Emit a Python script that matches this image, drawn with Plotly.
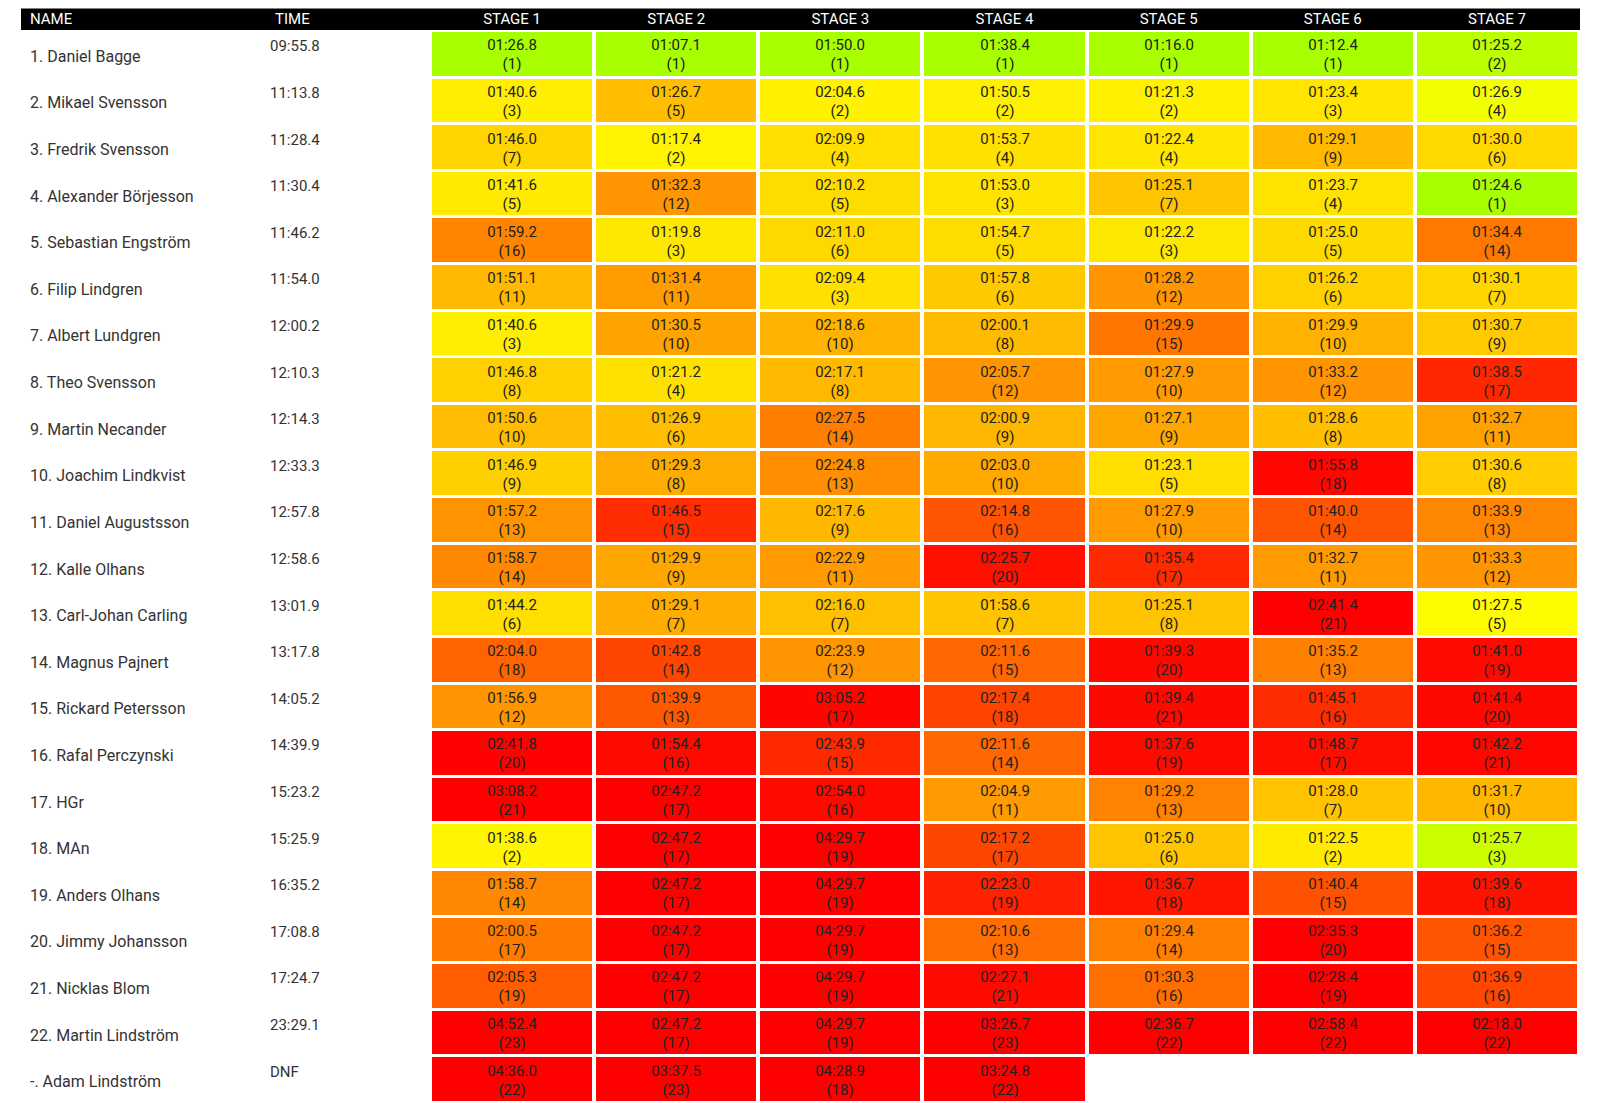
import plotly.graph_objects as go

names = ["1. Daniel Bagge", "2. Mikael Svensson", "3. Fredrik Svensson", "4. Alexander Börjesson",
         "5. Sebastian Engström", "6. Filip Lindgren", "7. Albert Lundgren", "8. Theo Svensson",
         "9. Martin Necander", "10. Joachim Lindkvist", "11. Daniel Augustsson", "12. Kalle Olhans",
         "13. Carl-Johan Carling", "14. Magnus Pajnert", "15. Rickard Petersson", "16. Rafal Perczynski",
         "17. HGr", "18. MAn", "19. Anders Olhans", "20. Jimmy Johansson", "21. Nicklas Blom",
         "22. Martin Lindström", "-. Adam Lindström"]
totals = ["09:55.8", "11:13.8", "11:28.4", "11:30.4", "11:46.2", "11:54.0", "12:00.2", "12:10.3",
          "12:14.3", "12:33.3", "12:57.8", "12:58.6", "13:01.9", "13:17.8", "14:05.2", "14:39.9",
          "15:23.2", "15:25.9", "16:35.2", "17:08.8", "17:24.7", "23:29.1", "DNF"]
stages = ["STAGE 1", "STAGE 2", "STAGE 3", "STAGE 4", "STAGE 5", "STAGE 6", "STAGE 7"]

# stage times per rider (row) and rank in stage
times = [
    ["01:26.8", "01:07.1", "01:50.0", "01:38.4", "01:16.0", "01:12.4", "01:25.2"],
    ["01:40.6", "01:26.7", "02:04.6", "01:50.5", "01:21.3", "01:23.4", "01:26.9"],
    ["01:46.0", "01:17.4", "02:09.9", "01:53.7", "01:22.4", "01:29.1", "01:30.0"],
    ["01:41.6", "01:32.3", "02:10.2", "01:53.0", "01:25.1", "01:23.7", "01:24.6"],
    ["01:59.2", "01:19.8", "02:11.0", "01:54.7", "01:22.2", "01:25.0", "01:34.4"],
    ["01:51.1", "01:31.4", "02:09.4", "01:57.8", "01:28.2", "01:26.2", "01:30.1"],
    ["01:40.6", "01:30.5", "02:18.6", "02:00.1", "01:29.9", "01:29.9", "01:30.7"],
    ["01:46.8", "01:21.2", "02:17.1", "02:05.7", "01:27.9", "01:33.2", "01:38.5"],
    ["01:50.6", "01:26.9", "02:27.5", "02:00.9", "01:27.1", "01:28.6", "01:32.7"],
    ["01:46.9", "01:29.3", "02:24.8", "02:03.0", "01:23.1", "01:55.8", "01:30.6"],
    ["01:57.2", "01:46.5", "02:17.6", "02:14.8", "01:27.9", "01:40.0", "01:33.9"],
    ["01:58.7", "01:29.9", "02:22.9", "02:25.7", "01:35.4", "01:32.7", "01:33.3"],
    ["01:44.2", "01:29.1", "02:16.0", "01:58.6", "01:25.1", "02:41.4", "01:27.5"],
    ["02:04.0", "01:42.8", "02:23.9", "02:11.6", "01:39.3", "01:35.2", "01:41.0"],
    ["01:56.9", "01:39.9", "03:05.2", "02:17.4", "01:39.4", "01:45.1", "01:41.4"],
    ["02:41.8", "01:54.4", "02:43.9", "02:11.6", "01:37.6", "01:48.7", "01:42.2"],
    ["03:08.2", "02:47.2", "02:54.0", "02:04.9", "01:29.2", "01:28.0", "01:31.7"],
    ["01:38.6", "02:47.2", "04:29.7", "02:17.2", "01:25.0", "01:22.5", "01:25.7"],
    ["01:58.7", "02:47.2", "04:29.7", "02:23.0", "01:36.7", "01:40.4", "01:39.6"],
    ["02:00.5", "02:47.2", "04:29.7", "02:10.6", "01:29.4", "02:35.3", "01:36.2"],
    ["02:05.3", "02:47.2", "04:29.7", "02:27.1", "01:30.3", "02:28.4", "01:36.9"],
    ["04:52.4", "02:47.2", "04:29.7", "03:26.7", "02:36.7", "02:58.4", "02:18.0"],
    ["04:36.0", "03:37.5", "04:28.9", "03:24.8", None, None, None],
]
ranks = [
    [1, 1, 1, 1, 1, 1, 2], [3, 5, 2, 2, 2, 3, 4], [7, 2, 4, 4, 4, 9, 6], [5, 12, 5, 3, 7, 4, 1],
    [16, 3, 6, 5, 3, 5, 14], [11, 11, 3, 6, 12, 6, 7], [3, 10, 10, 8, 15, 10, 9],
    [8, 4, 8, 12, 10, 12, 17], [10, 6, 14, 9, 9, 8, 11], [9, 8, 13, 10, 5, 18, 8],
    [13, 15, 9, 16, 10, 14, 13], [14, 9, 11, 20, 17, 11, 12], [6, 7, 7, 7, 8, 21, 5],
    [18, 14, 12, 15, 20, 13, 19], [12, 13, 17, 18, 21, 16, 20], [20, 16, 15, 14, 19, 17, 21],
    [21, 17, 16, 11, 13, 7, 10], [2, 17, 19, 17, 6, 2, 3], [14, 17, 19, 19, 18, 15, 18],
    [17, 17, 19, 13, 14, 20, 15], [19, 17, 19, 21, 16, 19, 16], [23, 17, 19, 23, 22, 22, 22],
    [22, 23, 18, 22, None, None, None],
]


def secs(s):
    m, r = s.split(":")
    return int(m) * 60 + float(r)


# colour score: distance from stage best relative to best-to-median spread
z, txt = [], []
for i in range(len(names)):
    z.append([None] * 7)
    txt.append([""] * 7)
for j in range(7):
    col = sorted(secs(r[j]) for r in times if r[j])
    best, med = col[0], col[len(col) // 2]
    for i, r in enumerate(times):
        if r[j]:
            z[i][j] = (secs(r[j]) - best) / (med - best)
            txt[i][j] = f"{r[j]}<br>({ranks[i][j]})"

rows = list(range(len(names)))
W, H = 1600, 1103
fig = go.Figure(go.Heatmap(
    z=z, x=stages, y=rows, text=txt, texttemplate="%{text}",
    textfont=dict(size=15, color="#222"),
    colorscale=[[0, "#a8ff00"], [0.12, "#ffff00"], [0.22, "#ffe000"], [0.3, "#ffbe00"],
                [0.38, "#ff9800"], [0.46, "#ff6a00"], [0.56, "#ff4000"], [0.68, "#ff0a00"], [1, "#ff0000"]],
    zmin=0, zmax=2.6, showscale=False, xgap=4, ygap=3, hoverinfo="skip",
))

for i in rows:
    fig.add_annotation(x=20 / W, xref="paper", y=i, yref="y", text=names[i], showarrow=False,
                       xanchor="left", yanchor="middle", font=dict(size=16, color="#333"), yshift=-2)
    fig.add_annotation(x=260 / W, xref="paper", y=i, yref="y", text=totals[i], showarrow=False,
                       xanchor="left", yanchor="middle", font=dict(size=15, color="#333"), yshift=8)

fig.add_shape(type="rect", xref="paper", yref="paper", x0=13 / W, x1=1572 / W,
              y0=1 - 22 / H, y1=1 - 0.5 / H, fillcolor="black", line_width=0, layer="below")
fig.add_annotation(x=20 / W, xref="paper", y=1 - 11 / H, yref="paper", text="NAME", showarrow=False,
                   xanchor="left", yanchor="middle", font=dict(size=15, color="white"))
fig.add_annotation(x=265 / W, xref="paper", y=1 - 11 / H, yref="paper", text="TIME", showarrow=False,
                   xanchor="left", yanchor="middle", font=dict(size=15, color="white"))

fig.update_layout(
    width=W, height=H, margin=dict(l=0, r=0, t=0, b=0),
    plot_bgcolor="white", paper_bgcolor="white",
    font=dict(family="Roboto, sans-serif"),
    xaxis=dict(domain=[422 / W, 1571 / W], side="top", showgrid=False, zeroline=False,
               ticks="", tickfont=dict(size=15, color="white"), ticklabelstandoff=3),
    yaxis=dict(domain=[1 - 1095 / H, 1 - 23 / H], autorange="reversed", showticklabels=False,
               showgrid=False, zeroline=False),
)
fig.write_html("out.html")
